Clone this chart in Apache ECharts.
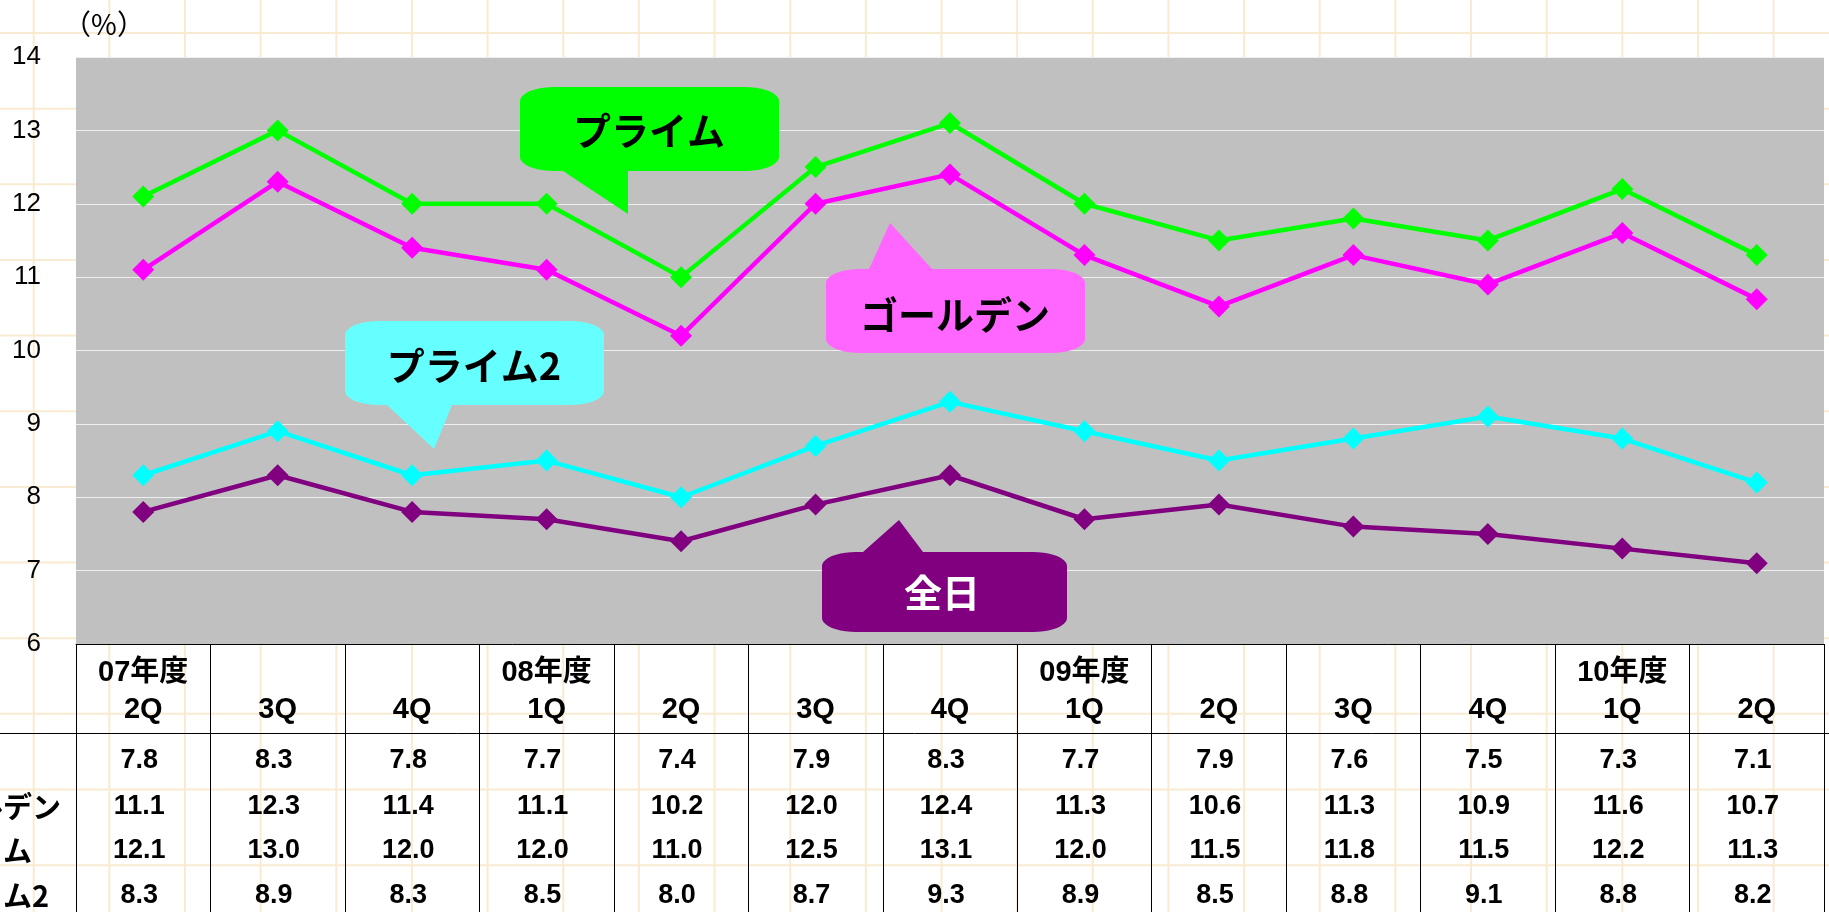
<!DOCTYPE html>
<html><head><meta charset="utf-8">
<script src="https://cdn.jsdelivr.net/npm/echarts@6/dist/echarts.min.js"></script>
<style>html,body{margin:0;padding:0;background:#fff}#c{width:1829px;height:912px}</style>
</head><body><div id="c"></div>
<script>
// ---- data ----
const yearLabels = ['07年度','','','08年度','','','','09年度','','','','10年度',''];
const quarterLabels = ['2Q','3Q','4Q','1Q','2Q','3Q','4Q','1Q','2Q','3Q','4Q','1Q','2Q'];
const allDay  = [7.8, 8.3, 7.8, 7.7, 7.4, 7.9, 8.3, 7.7, 7.9, 7.6, 7.5, 7.3, 7.1];
const golden  = [11.1,12.3,11.4,11.1,10.2,12.0,12.4,11.3,10.6,11.3,10.9,11.6,10.7];
const prime   = [12.1,13.0,12.0,12.0,11.0,12.5,13.1,12.0,11.5,11.8,11.5,12.2,11.3];
const prime2  = [8.3, 8.9, 8.3, 8.5, 8.0, 8.7, 9.3, 8.9, 8.5, 8.8, 9.1, 8.8, 8.2];
const seriesNames = ['全日','ゴールデン','プライム','プライム2'];
const yMin = 6, yMax = 14, yStep = 1;
const unitLabel = '（%）';

// ---- build ----
const categories = yearLabels.map((y, i) => y + '\n' + quarterLabels[i]);
const rows = [allDay, golden, prime, prime2];
const lineColors = ['#800080', '#FF00FF', '#00FF00', '#00FFFF'];
const FONT = '"Liberation Sans", "Noto Sans CJK JP", sans-serif';
const CJK = '"Noto Sans CJK JP", sans-serif';
const W = 1829, H = 912;
const plot = {left: 76, right: 5, top: 57, bottom: 268};
const tableTop = H - plot.bottom;
const rowCenters = [761, 807, 851, 896];

const chart = echarts.init(document.getElementById('c'), null, {renderer: 'canvas'});

const graphics = [];
// cream worksheet grid
const step = 75.65;
for (let x = 33.7; x < W; x += step) {
  graphics.push({type: 'line', z: -5, silent: true,
    shape: {x1: x, y1: 0, x2: x, y2: H}, style: {stroke: '#F8EBD2', lineWidth: 2}});
}
for (let y = 33; y < H; y += step) {
  graphics.push({type: 'line', z: -5, silent: true,
    shape: {x1: 0, y1: y, x2: W, y2: y}, style: {stroke: '#F8EBD2', lineWidth: 2}});
}
// unit label
graphics.push({type: 'text', z: 10, silent: true, style: {x: 104, y: 24, text: unitLabel, align: 'center', verticalAlign: 'middle',
  fontSize: 28, fontFamily: CJK, fill: '#000'}});
// header bottom line
graphics.push({type: 'line', z: 10, silent: true, shape: {x1: 0, y1: 733.5, x2: W, y2: 733.5}, style: {stroke: '#000', lineWidth: 1}});
// row labels (cut off at left edge)
seriesNames.forEach((n, i) => {
  graphics.push({type: 'text', z: 10, silent: true, style: {x: -84, y: rowCenters[i], text: n, align: 'left', verticalAlign: 'middle',
    fontSize: 29, fontWeight: 'bold', fontFamily: CJK, fill: '#000'}});
});

function corner(pts, cx, cy, rx, ry, a0, a1) {
  const n = 10;
  for (let k = 0; k <= n; k++) {
    const a = a0 + (a1 - a0) * k / n;
    pts.push([cx + rx * Math.cos(a), cy + ry * Math.sin(a)]);
  }
}
function bubble(x, y, w, h, tail, onTop) {
  const rx = 34, ry = 14, P = Math.PI;
  const pts = [];
  corner(pts, x + rx, y + ry, rx, ry, P, 1.5 * P);            // top-left
  if (onTop) { pts.push([tail[0], y], tail[1], [tail[2], y]); }
  corner(pts, x + w - rx, y + ry, rx, ry, 1.5 * P, 2 * P);    // top-right
  corner(pts, x + w - rx, y + h - ry, rx, ry, 0, 0.5 * P);    // bottom-right
  if (!onTop) { pts.push([tail[2], y + h], tail[1], [tail[0], y + h]); }
  corner(pts, x + rx, y + h - ry, rx, ry, 0.5 * P, P);        // bottom-left
  return pts;
}
const callouts = [
  {name: seriesNames[2], box: [520, 87, 259, 84], tail: [563, [628, 214], 628], top: false, fill: '#00FF00', text: '#000', tc: [649, 131]},
  {name: seriesNames[1], box: [826, 269, 259, 84], tail: [869, [890, 223], 932], top: true, fill: '#FF66FF', text: '#000', tc: [955, 315]},
  {name: seriesNames[3], box: [345, 321, 259, 84], tail: [387, [434, 449], 452], top: false, fill: '#66FFFF', text: '#000', tc: [474, 366]},
  {name: seriesNames[0], box: [822, 552, 245, 80], tail: [863, [899, 520], 923], top: true, fill: '#800080', text: '#FFF', tc: [942, 593]}
];
callouts.forEach(c => {
  graphics.push({type: 'polygon', z: 5, silent: true,
    shape: {points: bubble(c.box[0], c.box[1], c.box[2], c.box[3], c.tail, c.top)},
    style: {fill: c.fill}});
  graphics.push({type: 'text', z: 6, silent: true, style: {x: c.tc[0], y: c.tc[1], text: c.name, align: 'center', verticalAlign: 'middle',
    fontSize: 38, fontWeight: 'bold', fontFamily: CJK, fill: c.text}});
});

const xAxes = [{
  type: 'category', data: categories, position: 'bottom', boundaryGap: true,
  axisLine: {show: true, lineStyle: {color: '#000', width: 1}},
  axisTick: {show: true, interval: 0, length: plot.bottom, lineStyle: {color: '#000', width: 1}},
  axisLabel: {interval: 0, margin: 10, lineHeight: 37, fontSize: 29, fontWeight: 'bold', color: '#000', fontFamily: FONT},
  splitLine: {show: false}
}];
rows.forEach((r, i) => {
  xAxes.push({
    type: 'category', data: categories, position: 'bottom', offset: rowCenters[i] - tableTop - 15,
    axisLine: {show: false}, axisTick: {show: false}, splitLine: {show: false},
    axisLabel: {interval: 0, margin: 0, lineHeight: 30, fontSize: 27, fontWeight: 'bold', color: '#000', fontFamily: FONT,
      padding: [0, 8, 0, 0], formatter: (v, idx) => r[idx].toFixed(1)}
  });
});

chart.setOption({
  animation: false,
  backgroundColor: '#FFFFFF',
  grid: {left: plot.left, right: plot.right, top: plot.top, bottom: plot.bottom, show: true,
    backgroundColor: '#C0C0C0', borderWidth: 0},
  xAxis: xAxes,
  yAxis: {type: 'value', min: yMin, max: yMax, interval: yStep,
    axisLine: {show: false}, axisTick: {show: false},
    splitLine: {show: true, lineStyle: {color: '#EEEEEE', width: 1}},
    axisLabel: {fontSize: 26, color: '#000', margin: 35, fontFamily: FONT}},
  graphic: {elements: graphics},
  series: rows.map((r, i) => ({
    name: seriesNames[i], type: 'line', data: r, xAxisIndex: 0, yAxisIndex: 0,
    symbol: 'diamond', symbolSize: 22, showSymbol: true,
    lineStyle: {color: lineColors[i], width: 4.5},
    itemStyle: {color: lineColors[i]},
    emphasis: {disabled: true}, z: 3
  }))
});
</script>
</body></html>
